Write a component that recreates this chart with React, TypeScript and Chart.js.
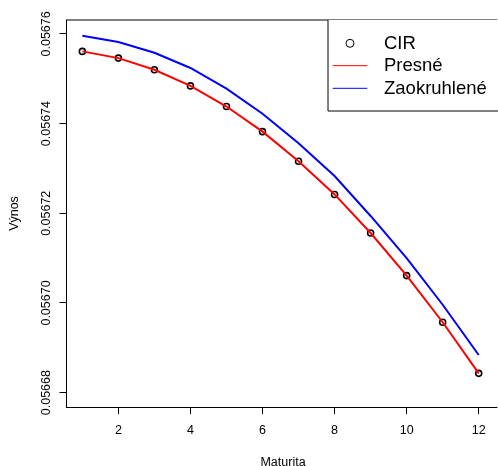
import React, { useEffect, useRef } from "react";
import { Chart, registerables } from "chart.js";

Chart.register(...registerables);

// ---- data ----
const maturita = [1, 2, 3, 4, 5, 6, 7, 8, 9, 10, 11, 12];
const cir = [0.0567561, 0.0567546, 0.056752, 0.0567484, 0.0567438, 0.0567382, 0.0567316, 0.0567242, 0.0567156, 0.0567061, 0.0566957, 0.0566843];
const presne = [0.0567561, 0.0567546, 0.056752, 0.0567484, 0.0567438, 0.0567382, 0.0567316, 0.0567242, 0.0567156, 0.0567061, 0.0566957, 0.0566843];
const zaokruhlene = [0.0567596, 0.0567582, 0.0567558, 0.0567524, 0.0567478, 0.0567422, 0.0567356, 0.0567283, 0.0567194, 0.05671, 0.0566996, 0.0566884];
const xTicks = [2, 4, 6, 8, 10, 12];
const yTicks = [0.05668, 0.0567, 0.05672, 0.05674, 0.05676];
const yTickLabels = ["0.05668", "0.05670", "0.05672", "0.05674", "0.05676"];
const seriesLabels = ["CIR", "Presné", "Zaokruhlené"];
const xTitle = "Maturita";
const yTitle = "Výnos";

const FONT = '"Liberation Sans", Arial, Helvetica, sans-serif';

const overlay = {
  id: "rOverlay",
  afterDraw(chart: any) {
    const ctx = chart.ctx as CanvasRenderingContext2D;
    const a = chart.chartArea;
    const ys = chart.scales.y;
    ctx.save();
    // frame (left, top, bottom)
    ctx.strokeStyle = "#000";
    ctx.lineWidth = 1;
    ctx.beginPath();
    ctx.moveTo(a.right + 5, 20);
    ctx.lineTo(66.5, 20);
    ctx.moveTo(66.5, 19.5);
    ctx.lineTo(66.5, 407.5);
    ctx.moveTo(66, 407.5);
    ctx.lineTo(a.right + 5, 407.5);
    ctx.stroke();

    // y tick labels (rotated)
    ctx.fillStyle = "#000";
    ctx.font = `12.5px ${FONT}`;
    ctx.textAlign = "center";
    ctx.textBaseline = "alphabetic";
    yTicks.forEach((v, i) => {
      const py = ys.getPixelForValue(v);
      ctx.save();
      ctx.translate(49.5, py);
      ctx.rotate(-Math.PI / 2);
      ctx.fillText(yTickLabels[i], 0, 0);
      ctx.restore();
    });

    // axis titles
    ctx.save();
    ctx.translate(17.5, (a.top + a.bottom) / 2);
    ctx.rotate(-Math.PI / 2);
    ctx.fillText(yTitle, 0, 0);
    ctx.restore();
    ctx.fillText(xTitle, 283, 465.5);

    // legend
    const lx = 328, ly = 20, lb = 111;
    ctx.fillStyle = "#fff";
    ctx.fillRect(lx, ly, 200, lb - ly);
    ctx.strokeStyle = "#000";
    ctx.lineWidth = 1;
    ctx.beginPath();
    ctx.moveTo(lx, ly);
    ctx.lineTo(lx, lb);
    ctx.lineTo(510, lb);
    ctx.stroke();

    const rows = [43.3, 65.7, 88.3];
    const ds = chart.data.datasets;
    ctx.font = `18.5px ${FONT}`;
    ctx.textAlign = "left";
    ctx.textBaseline = "middle";
    ds.forEach((d: any, i: number) => {
      const y = rows[i];
      if (i === 0) {
        ctx.strokeStyle = "#000";
        ctx.lineWidth = 1;
        ctx.beginPath();
        ctx.arc(350, y, 4, 0, Math.PI * 2);
        ctx.stroke();
      } else {
        ctx.strokeStyle = d.borderColor;
        ctx.lineWidth = 1;
        ctx.beginPath();
        ctx.moveTo(332.7, y);
        ctx.lineTo(367.3, y);
        ctx.stroke();
      }
      ctx.fillStyle = "#000";
      ctx.fillText(d.label, 384, y + 0.5);
    });
    ctx.restore();
  },
};

export default function App() {
  const ref = useRef<HTMLCanvasElement | null>(null);
  useEffect(() => {
    if (!ref.current) return;
    const pts = (arr: number[]) => maturita.map((x, i) => ({ x, y: arr[i] }));
    const chart = new Chart(ref.current, {
      type: "scatter",
      data: {
        datasets: [
          {
            label: seriesLabels[0],
            data: pts(cir),
            showLine: false,
            pointRadius: 3,
            pointBorderWidth: 1.6,
            pointBorderColor: "#000",
            pointBackgroundColor: "rgba(0,0,0,0)",
            borderColor: "#000",
            order: 3,
          },
          {
            label: seriesLabels[1],
            data: pts(presne),
            showLine: true,
            pointRadius: 0,
            borderColor: "#ff0000",
            borderWidth: 2,
            tension: 0,
            order: 2,
          },
          {
            label: seriesLabels[2],
            data: pts(zaokruhlene),
            showLine: true,
            pointRadius: 0,
            borderColor: "#0000ff",
            borderWidth: 2,
            tension: 0,
            order: 1,
          },
        ],
      },
      options: {
        animation: false,
        responsive: true,
        maintainAspectRatio: false,
        devicePixelRatio: 1,
        layout: { padding: { top: 20, left: 0, right: 0, bottom: 0 } },
        plugins: { legend: { display: false }, tooltip: { enabled: false } },
        scales: {
          x: {
            type: "linear",
            min: 0.56,
            max: 12.38,
            afterBuildTicks: (s: any) => {
              s.ticks = xTicks.map((v) => ({ value: v }));
            },
            afterFit: (s: any) => {
              s.height = 59;
            },
            ticks: {
              autoSkip: false,
              color: "#000",
              padding: 9,
              font: { family: FONT, size: 12.5 },
              callback: (v: any) => String(v),
            },
            grid: { drawOnChartArea: false, drawTicks: true, tickLength: 7, tickColor: "#000" },
            border: { display: false },
          },
          y: {
            type: "linear",
            min: 0.0566768,
            max: 0.0567631,
            afterBuildTicks: (s: any) => {
              s.ticks = yTicks.map((v) => ({ value: v }));
            },
            afterFit: (s: any) => {
              s.width = 66.5;
            },
            ticks: {
              autoSkip: false,
              color: "rgba(0,0,0,0)",
              font: { family: FONT, size: 12.5 },
              callback: (v: any) => Number(v).toFixed(5),
            },
            grid: { drawOnChartArea: false, drawTicks: true, tickLength: 7, tickColor: "#000" },
            border: { display: false },
          },
        },
      },
      plugins: [overlay],
    });
    return () => chart.destroy();
  }, []);
  return (
    <div style={{ position: "fixed", left: 0, top: 0, width: 498, height: 466, background: "#fff" }}>
      <canvas ref={ref} />
    </div>
  );
}
